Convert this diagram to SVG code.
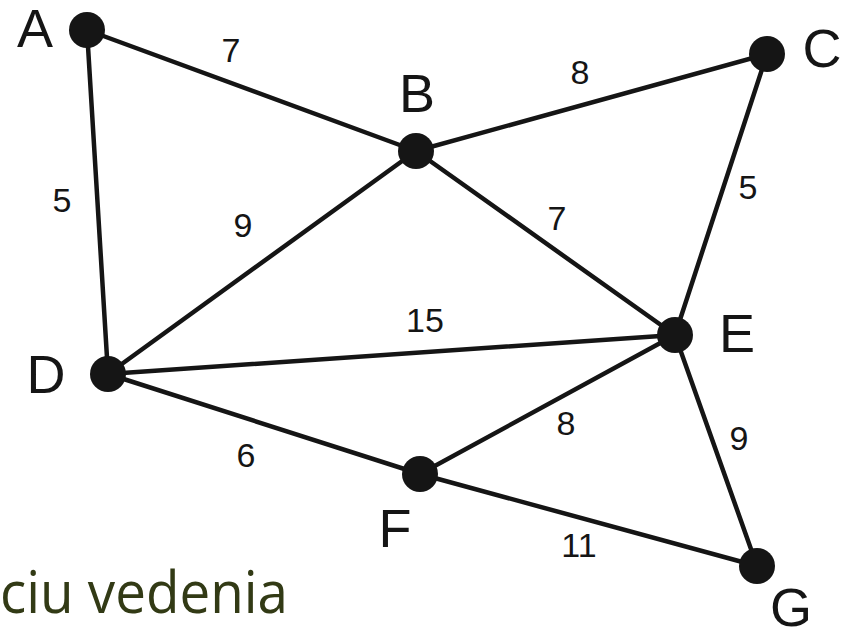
<svg xmlns="http://www.w3.org/2000/svg" width="849" height="630" viewBox="0 0 849 630">
  <style>
    .edge { stroke: #151515; stroke-width: 4.5; stroke-linecap: round; fill: none; }
    .node { fill: #151515; }
    .name { font-family: "Liberation Sans", Arial, sans-serif; font-size: 54px; fill: #151515; text-anchor: middle; }
    .weight { font-family: "Liberation Sans", Arial, sans-serif; font-size: 34px; fill: #151515; text-anchor: middle; }
    .caption { font-family: "Open Sans", "DejaVu Sans", sans-serif; font-size: 58px; fill: #323a15; }
  </style>
  <rect width="849" height="630" fill="#ffffff"/>

  <g id="edges">
    <line class="edge" x1="87" y1="30" x2="416" y2="151"/>
    <line class="edge" x1="87" y1="30" x2="108" y2="374"/>
    <line class="edge" x1="416" y1="151" x2="767" y2="54"/>
    <line class="edge" x1="416" y1="151" x2="108" y2="374"/>
    <line class="edge" x1="416" y1="151" x2="675" y2="335"/>
    <line class="edge" x1="767" y1="54" x2="675" y2="335"/>
    <line class="edge" x1="108" y1="374" x2="675" y2="335"/>
    <line class="edge" x1="108" y1="374" x2="420" y2="474"/>
    <line class="edge" x1="420" y1="474" x2="675" y2="335"/>
    <line class="edge" x1="420" y1="474" x2="757" y2="566"/>
    <line class="edge" x1="675" y1="335" x2="757" y2="566"/>
  </g>

  <g id="weights">
    <text class="weight" x="231" y="62">7</text>
    <text class="weight" x="580" y="84">8</text>
    <text class="weight" x="62" y="212">5</text>
    <text class="weight" x="243" y="237">9</text>
    <text class="weight" x="557" y="230">7</text>
    <text class="weight" x="748" y="199">5</text>
    <text class="weight" x="425" y="332">15</text>
    <text class="weight" x="566" y="435">8</text>
    <text class="weight" x="739" y="450">9</text>
    <text class="weight" x="246" y="467">6</text>
    <text class="weight" x="579" y="557">11</text>
  </g>

  <g id="node-A"><circle class="node" cx="87" cy="30" r="18"/><text class="name" x="35" y="47">A</text></g>
  <g id="node-B"><circle class="node" cx="416" cy="151" r="18"/><text class="name" x="417" y="112">B</text></g>
  <g id="node-C"><circle class="node" cx="767" cy="54" r="18"/><text class="name" x="822" y="67">C</text></g>
  <g id="node-D"><circle class="node" cx="108" cy="374" r="18"/><text class="name" x="46" y="393">D</text></g>
  <g id="node-E"><circle class="node" cx="675" cy="335" r="18"/><text class="name" x="737" y="352">E</text></g>
  <g id="node-F"><circle class="node" cx="420" cy="474" r="18"/><text class="name" x="395" y="547">F</text></g>
  <g id="node-G"><circle class="node" cx="757" cy="566" r="18"/><text class="name" x="791" y="626">G</text></g>

  <text class="caption" x="0" y="613" textLength="288" lengthAdjust="spacingAndGlyphs">ciu vedenia</text>
</svg>
